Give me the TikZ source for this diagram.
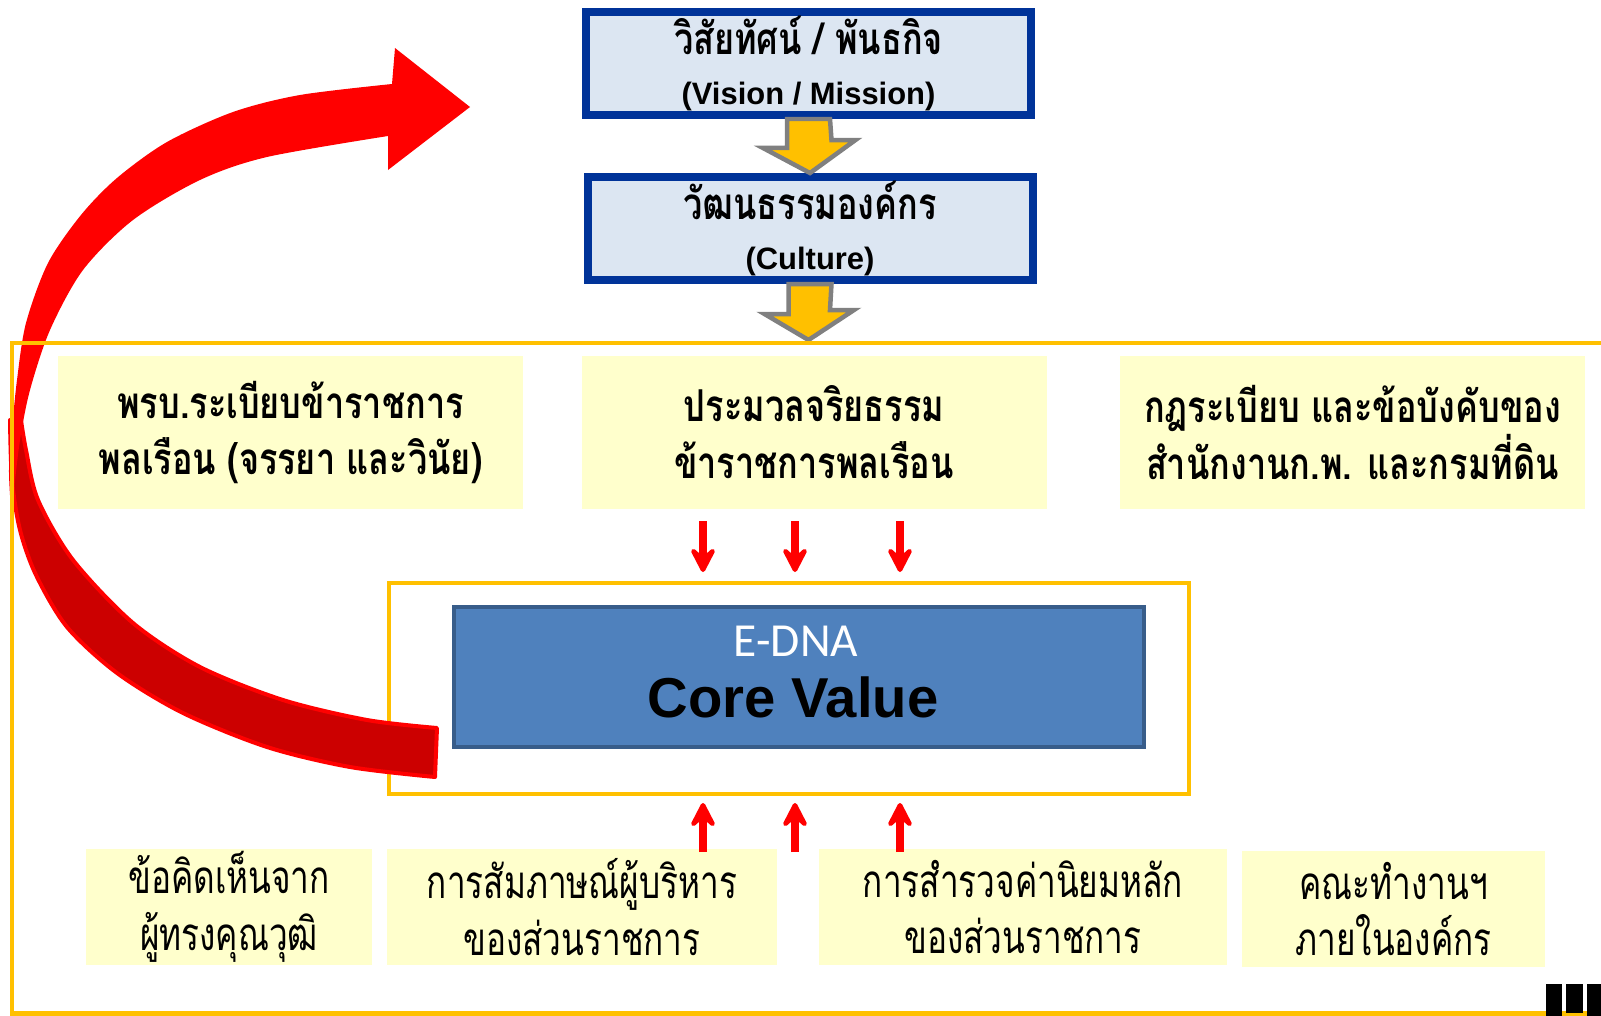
\documentclass[tikz,border=0pt]{standalone}
\usepackage{fontspec}
\setmainfont{Liberation Sans}
\newfontfamily\thaifont[Script=Thai,FakeStretch=0.78]{Loma}
\newfontfamily\thaicond[Script=Thai,FakeStretch=0.73]{Loma}
\newfontfamily\ednafont{Carlito}
\usetikzlibrary{arrows.meta,calc}
\definecolor{NavyLine}{HTML}{003399}
\definecolor{PaleBlue}{HTML}{DCE6F2}
\definecolor{Amber}{HTML}{FFC000}
\definecolor{CreamFill}{HTML}{FFFFCC}
\definecolor{CoreBlue}{HTML}{4F81BD}
\definecolor{CoreEdge}{HTML}{385D8A}
\definecolor{DeepRed}{HTML}{CC0000}
\definecolor{ArrowGray}{HTML}{808080}

\begin{document}
\begin{tikzpicture}[topbox/.style={draw=NavyLine,fill=PaleBlue,line width=0.08cm,minimum width=4.45cm,minimum height=1.03cm,inner sep=0pt,align=center,font=\bfseries\fontsize{8.8}{15}\selectfont},rulebox/.style={fill=CreamFill,minimum width=4.65cm,minimum height=1.53cm,inner sep=0pt,align=center,font=\thaifont\bfseries\fontsize{12.5}{16.2}\selectfont},srcbox/.style={fill=CreamFill,minimum height=1.16cm,inner sep=0pt,align=center,font=\thaicond\fontsize{13}{16.2}\selectfont},flowarrow/.style={fill=Amber,draw=ArrowGray,line width=0.045cm,line join=miter},redtip/.style={draw=red,line width=0.08cm,-{Stealth[length=0.33cm,width=0.34cm,inset=0.15cm,round]}}]
\useasboundingbox (0,0) rectangle (16.01,-10.16);
\fill[white] (0,0) rectangle (16.01,-10.16);
% top chain
\node[topbox] (vision) at (8.085,-0.635){{\thaifont\fontsize{12.5}{15}\selectfont วิสัยทัศน์ / พันธกิจ}\\[-0.02cm](Vision / Mission)};
\node[topbox] (culture) at (8.10,-2.285){{\thaifont\fontsize{12.5}{15}\selectfont วัฒนธรรมองค์กร}\\[-0.02cm](Culture)};
\coordinate (framein) at (8.085,-3.40);
\draw[flowarrow] ([xshift=-2.15mm]vision.south) -- ++(0,-0.29) -- ++(-0.24,0) -- (culture.north) -- ++(0.455,0.33) -- ++(-0.24,0) -- ([xshift=2.15mm]vision.south) -- cycle;
\draw[flowarrow] ([xshift=-2.15mm]culture.south) -- ++(0,-0.30) -- ++(-0.24,0) -- (framein) -- ++(0.455,0.30) -- ++(-0.24,0) -- ([xshift=2.15mm]culture.south) -- cycle;
% sources above
\node[rulebox] (law) at (2.905,-4.325){พรบ.ระเบียบข้าราชการ\\พลเรือน (จรรยา และวินัย)};
\node[rulebox] (ethics) at (8.14,-4.325){ประมวลจริยธรรม\\ข้าราชการพลเรือน};
\node[rulebox] (rules) at (13.525,-4.325){กฎระเบียบ และข้อบังคับของ\\สำนักงานก.พ. และกรมที่ดิน};
% core value
\node[draw=Amber,line width=0.04cm,minimum width=8.0cm,minimum height=2.11cm] (valuebox) at (7.89,-6.885){};
\node[draw=CoreEdge,fill=CoreBlue,line width=0.04cm,minimum width=6.9cm,minimum height=1.40cm] (core) at (7.985,-6.765){};
\node[font=\ednafont\fontsize{13.5}{14}\selectfont,text=white] (edna) at (7.96,-6.41){E-DNA};
\node[font=\bfseries\fontsize{16}{18}\selectfont] (cv) at (7.93,-6.97){Core Value};
% sources below
\node[srcbox,minimum width=2.86cm] (expert) at (2.29,-9.07){ข้อคิดเห็นจาก\\ผู้ทรงคุณวุฒิ};
\node[srcbox,minimum width=3.90cm] (interview) at (5.82,-9.07){การสัมภาษณ์ผู้บริหาร\\ของส่วนราชการ};
\node[srcbox,minimum width=4.08cm] (survey) at (10.23,-9.07){การสำรวจค่านิยมหลัก\\ของส่วนราชการ};
\node[srcbox,minimum width=3.03cm] (team) at (13.935,-9.09){คณะทำงานฯ\\ภายในองค์กร};
\foreach \x [count=\i] in {7.03,7.95,9.00}{
\coordinate (dn\i) at (\x,-5.21);
\coordinate (up\i) at (\x,-8.52);
\draw[redtip,shorten >=0.09cm] (dn\i) -- (dn\i |- valuebox.north);
\draw[redtip,shorten >=0.07cm] (up\i) -- (up\i |- valuebox.south);
}
% curved feedback arrow
\filldraw[fill=DeepRed,draw=red,line width=0.04cm,line join=round] plot[smooth] coordinates {(0.10,-4.20) (0.12,-4.80) (0.20,-5.30) (0.36,-5.75) (0.67,-6.27) (1.17,-6.73) (1.83,-7.13) (2.67,-7.47) (3.50,-7.67) (4.35,-7.77)} -- plot[smooth] coordinates {(4.37,-7.28) (3.67,-7.20) (2.83,-7.00) (2.00,-6.67) (1.33,-6.23) (0.73,-5.60) (0.38,-5.00) (0.26,-4.50) (0.21,-4.20)} -- cycle;
\fill[red] plot[smooth] coordinates {(0.11,-5.10) (0.09,-4.70) (0.12,-4.30) (0.17,-3.80) (0.26,-3.23) (0.48,-2.63) (0.81,-2.15) (1.17,-1.78) (1.67,-1.42) (2.33,-1.12) (3.00,-0.95) (3.92,-0.84)} -- (3.95,-0.48) -- (4.70,-1.07) -- (3.88,-1.70) -- plot[smooth] coordinates {(3.88,-1.36) (2.67,-1.57) (2.00,-1.80) (1.33,-2.20) (0.83,-2.70) (0.50,-3.30) (0.30,-3.90) (0.20,-4.40) (0.14,-4.90)} -- cycle;
% outer frame
\draw[Amber,line width=0.045cm] (16.4,-3.43) -- (0.12,-3.43) -- (0.12,-10.135) -- (16.4,-10.135);
\fill (15.46,-9.84) rectangle (15.62,-10.16);
\fill (15.66,-9.84) rectangle (15.83,-10.13);
\fill (15.87,-9.84) rectangle (16.01,-10.16);
\end{tikzpicture}
\end{document}
